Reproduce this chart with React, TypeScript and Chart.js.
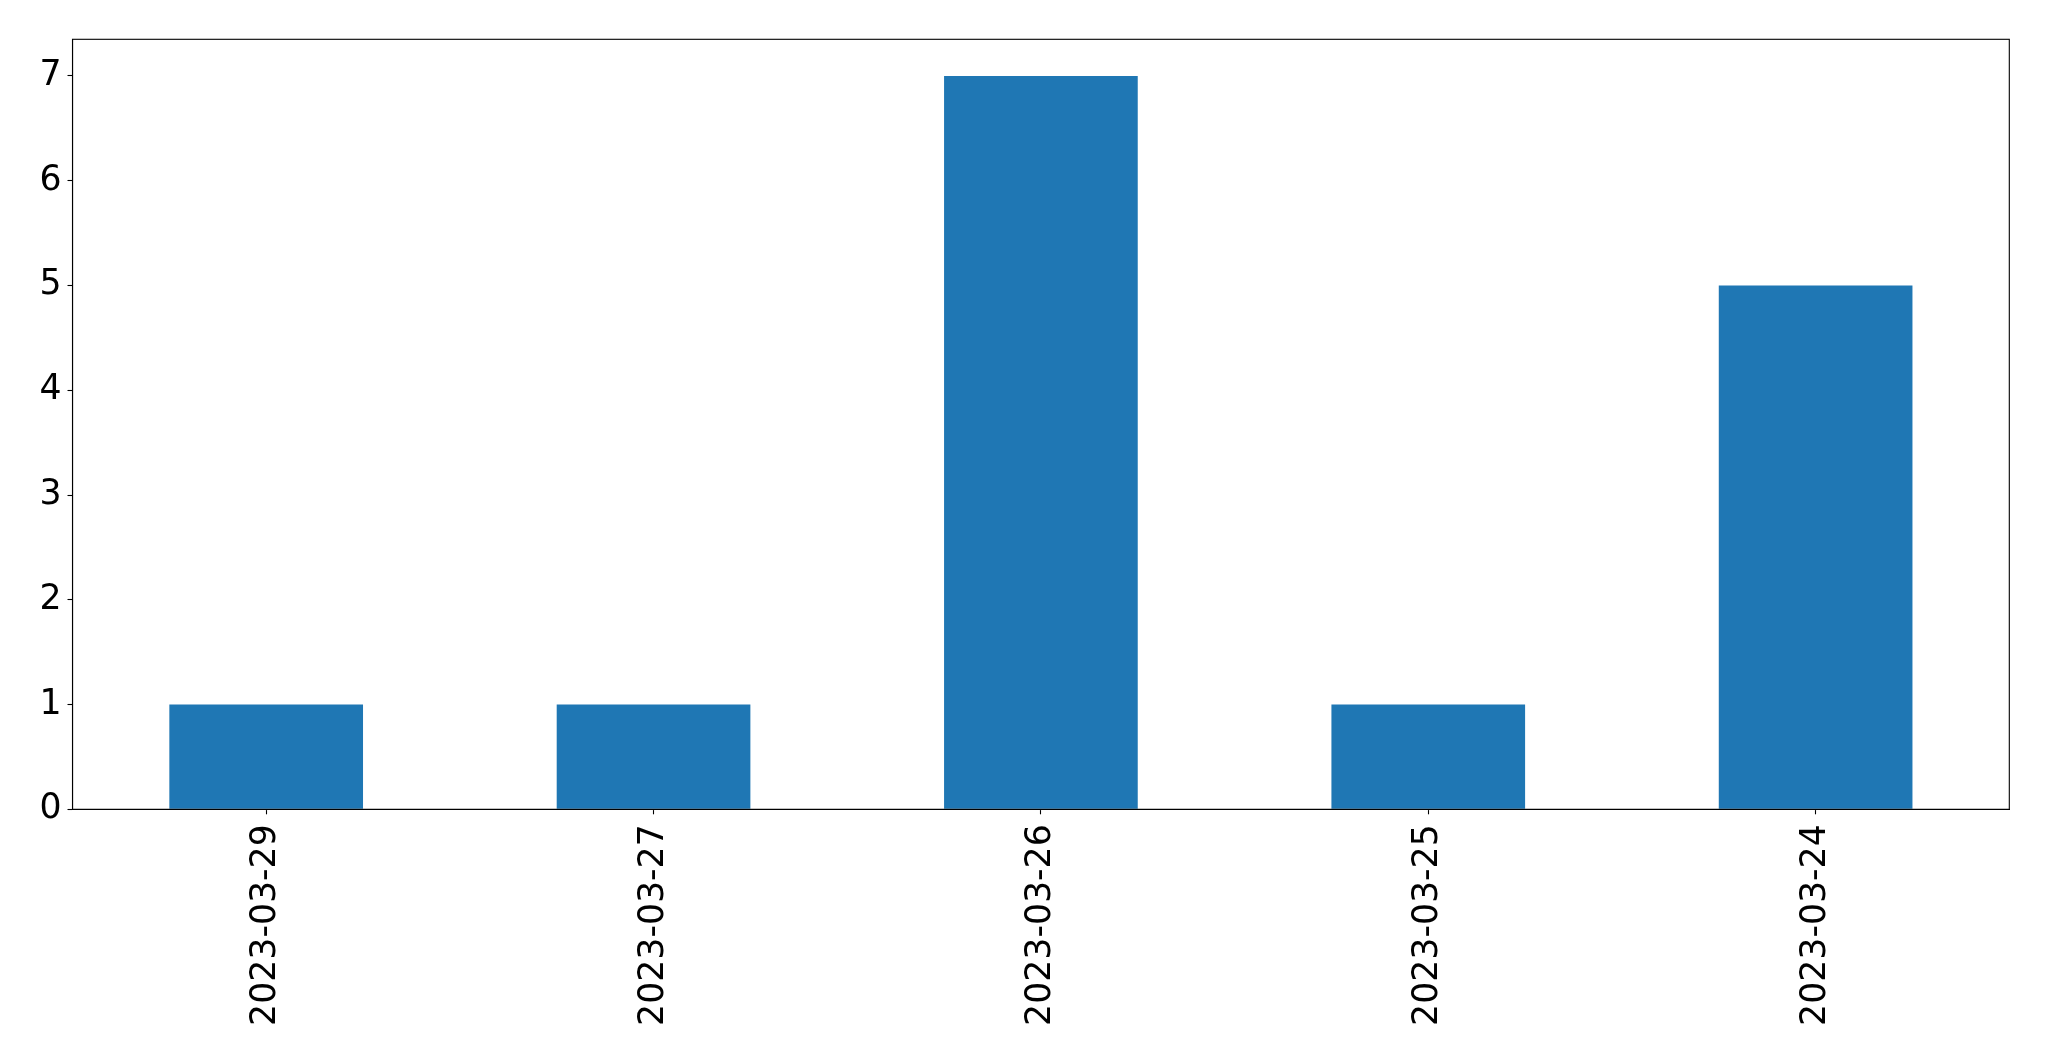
import React, { useEffect, useRef } from "react";
import { Chart, registerables } from "chart.js";

Chart.register(...registerables);

const categories = ["2023-03-29", "2023-03-27", "2023-03-26", "2023-03-25", "2023-03-24"];
const counts = [1, 1, 7, 1, 5];
const yTicks = [0, 1, 2, 3, 4, 5, 6, 7];
const yMax = 7.35;

const W = 2049;
const H = 1061;
const LEFT = 72.5;
const RIGHT = 2009.3;
const TOP = 39.3;
const BOTTOM = 809.3;

const framePlugin = {
  id: "frame",
  afterDraw(chart: any) {
    const { ctx, chartArea } = chart;
    ctx.save();
    ctx.strokeStyle = "#000";
    ctx.lineWidth = 1.1;
    ctx.strokeRect(chartArea.left, chartArea.top, chartArea.right - chartArea.left, chartArea.bottom - chartArea.top);
    ctx.restore();
  },
};

export default function App() {
  const ref = useRef<HTMLCanvasElement | null>(null);
  useEffect(() => {
    if (!ref.current) return;
    const font = { family: "'DejaVu Sans', sans-serif", size: 34.7 };
    const chart = new Chart(ref.current, {
      type: "bar",
      data: {
        labels: categories,
        datasets: [
          {
            data: counts,
            backgroundColor: "#1f77b4",
            borderWidth: 0,
            categoryPercentage: 1,
            barPercentage: 0.5,
          },
        ],
      },
      options: {
        animation: false,
        responsive: false,
        maintainAspectRatio: false,
        layout: { padding: { left: 0, top: TOP, right: W - RIGHT, bottom: 0 } },
        plugins: { legend: { display: false }, tooltip: { enabled: false } },
        scales: {
          x: {
            offset: true,
            grid: { offset: false, drawOnChartArea: false, drawTicks: true, tickLength: 5, color: "#000", tickWidth: 1.1 },
            border: { display: true, color: "#000", width: 1.1 },
            ticks: { color: "#000", font, maxRotation: 90, minRotation: 90, padding: 10, autoSkip: false },
            afterFit: (s: any) => {
              s.height = H - BOTTOM;
            },
          },
          y: {
            min: 0,
            max: yMax,
            grid: { drawOnChartArea: false, drawTicks: true, tickLength: 5, color: "#000", tickWidth: 1.1 },
            border: { display: true, color: "#000", width: 1.1 },
            ticks: { color: "#000", font, padding: 6 },
            afterBuildTicks: (s: any) => {
              s.ticks = yTicks.map((v) => ({ value: v }));
            },
            afterFit: (s: any) => {
              s.width = LEFT;
            },
          },
        },
      },
      plugins: [framePlugin],
    });
    return () => chart.destroy();
  }, []);
  return (
    <div style={{ position: "absolute", left: 0, top: 0, width: W, height: H, background: "#fff" }}>
      <canvas ref={ref} width={W} height={H} style={{ display: "block", width: W, height: H }} />
    </div>
  );
}
